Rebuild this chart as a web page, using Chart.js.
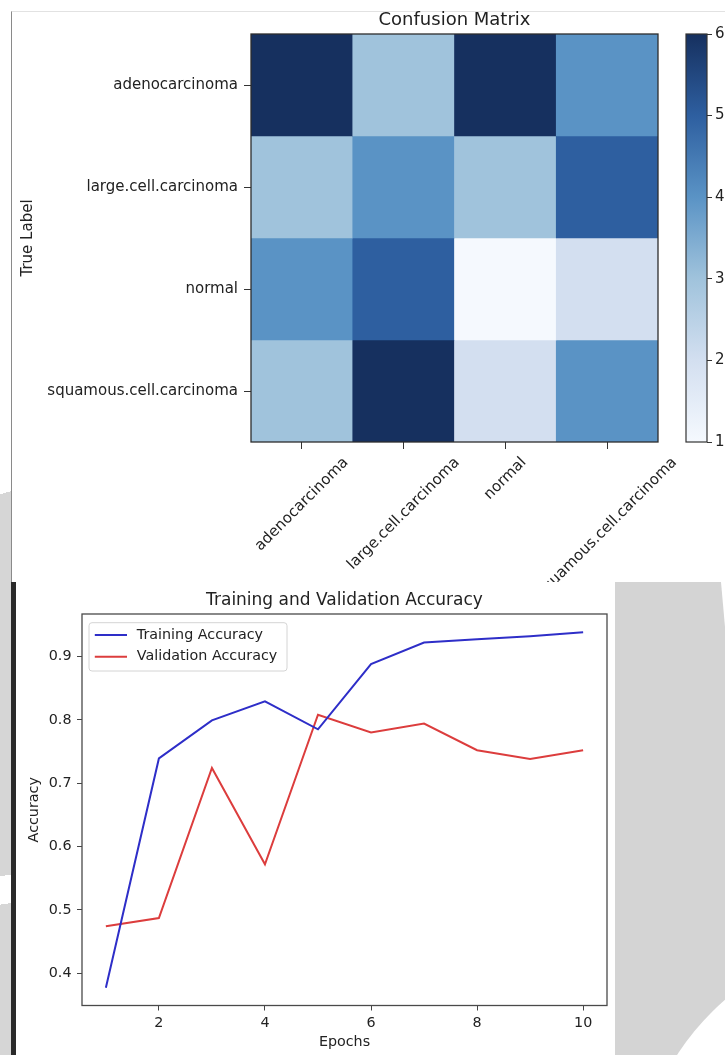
<!DOCTYPE html>
<html>
<head>
<meta charset="utf-8">
<script src="https://cdn.jsdelivr.net/npm/chart.js@4.4.1/dist/chart.umd.min.js"></script>
<style>
  html, body { margin: 0; padding: 0; background: #fff; }
  #wrap { position: relative; width: 725px; height: 1055px; overflow: hidden; background: #fff; }
  .abs { position: absolute; }
</style>
</head>
<body>
<div id="wrap">
  <!-- background watermark bits -->
  <div class="abs" style="left:0;top:420px;width:11px;height:162px;background:linear-gradient(165deg,#fff 0%,#fff 45%,#d6d6d6 45%,#d6d6d6 100%);"></div>
  <div class="abs" style="left:0;top:582px;width:11px;height:473px;background:linear-gradient(172deg,#d6d6d6 0%,#d6d6d6 62%,#fff 62%,#fff 68%,#d6d6d6 68%,#d6d6d6 100%);"></div>
  <!-- top panel frame -->
  <div class="abs" style="left:11px;top:11px;width:714px;height:571px;border-left:1px solid #8a8a8a;border-top:1px solid #e2e2e2;background:#fff;"></div>
  <canvas id="cm" class="abs" style="left:0;top:0;z-index:1" width="725" height="600"></canvas>
  <canvas id="cb" class="abs" style="left:660px;top:0;z-index:1" width="65" height="600"></canvas>
  <!-- bottom panel -->
  <div class="abs" style="left:11px;top:582px;width:5px;height:473px;background:#2a2a2a;z-index:2"></div>
  <div class="abs" style="left:16px;top:582px;width:599px;height:473px;background:#fff;z-index:2"></div>
  <div class="abs" style="left:615px;top:582px;width:110px;height:473px;background:#d4d4d4;z-index:2;overflow:hidden;">
    <div class="abs" style="left:19px;top:352px;width:532px;height:532px;border-radius:50%;background:#fff;"></div>
    <div class="abs" style="left:0;top:0;width:110px;height:110px;background:#fff;clip-path:polygon(106px 0,110px 0,110px 45px);"></div>
  </div>
  <canvas id="acc" class="abs" style="left:16px;top:582px;z-index:3" width="599" height="473"></canvas>
</div>
<script>
// ---------------- data ----------------
const trueLabels = ['adenocarcinoma', 'large.cell.carcinoma', 'normal', 'squamous.cell.carcinoma'];
const predLabels = ['adenocarcinoma', 'large.cell.carcinoma', 'normal', 'squamous.cell.carcinoma'];
const cmRow0 = [6, 3, 6, 4];
const cmRow1 = [3, 4, 3, 5];
const cmRow2 = [4, 5, 1, 2];
const cmRow3 = [3, 6, 2, 4];
const colorbarTicks = [1, 2, 3, 4, 5, 6];

const epochs = [1, 2, 3, 4, 5, 6, 7, 8, 9, 10];
const trainAcc = [0.377, 0.739, 0.799, 0.829, 0.785, 0.888, 0.922, 0.927, 0.932, 0.938];
const valAcc   = [0.474, 0.487, 0.724, 0.572, 0.808, 0.780, 0.794, 0.752, 0.738, 0.752];
const accTicks = [0.4, 0.5, 0.6, 0.7, 0.8, 0.9];
const epochTicks = [2, 4, 6, 8, 10];

// ---------------- helpers ----------------
const FONT = '"DejaVu Sans", "Liberation Sans", sans-serif';
Chart.defaults.font.family = FONT;
Chart.defaults.color = '#222';
Chart.defaults.animation = false;

// "Blues" colormap as it appears in the (slightly washed-out) reference
const BLUES = ['#f5f9fe', '#d3dff0', '#a0c3dc', '#5a93c5', '#2e5fa0', '#16305f'];
function hex2rgb(h){ return [parseInt(h.slice(1,3),16), parseInt(h.slice(3,5),16), parseInt(h.slice(5,7),16)]; }
function blues(t){
  t = Math.max(0, Math.min(1, t));
  const p = t * (BLUES.length - 1);
  const i = Math.min(Math.floor(p), BLUES.length - 2);
  const f = p - i;
  const a = hex2rgb(BLUES[i]), b = hex2rgb(BLUES[i+1]);
  const c = a.map((v, k) => Math.round(v + (b[k] - v) * f));
  return `rgb(${c[0]},${c[1]},${c[2]})`;
}
const cmRows = [cmRow0, cmRow1, cmRow2, cmRow3];
const vmin = Math.min(...colorbarTicks), vmax = Math.max(...colorbarTicks);

const framePlugin = {
  id: 'frame',
  afterDatasetsDraw(chart, args, opts) {
    const {ctx, chartArea: a} = chart;
    ctx.save();
    ctx.strokeStyle = opts.color || '#333';
    ctx.lineWidth = opts.width || 1.2;
    ctx.strokeRect(a.left, a.top, a.right - a.left, a.bottom - a.top);
    ctx.restore();
  }
};

const rotLabels = {
  id: 'rotLabels',
  afterDraw(chart) {
    const xs = chart.scales.x, c = chart.ctx;
    const size = 15;
    c.save();
    c.font = `${size}px ${FONT}`;
    c.fillStyle = '#222';
    const top = chart.chartArea.bottom + 12;
    predLabels.forEach((lab, i) => {
      const px = xs.getPixelForTick(i);
      const w = c.measureText(lab).width, h = size * 1.16;
      const half = (w + h) * Math.SQRT1_2 / 2;
      c.save();
      c.translate(px, top + half);
      c.rotate(-Math.PI / 4);
      c.textAlign = 'center';
      c.textBaseline = 'middle';
      c.fillText(lab, 0, 0);
      c.restore();
    });
    c.restore();
  }
};

// ---------------- confusion matrix ----------------
new Chart(document.getElementById('cm'), {
  type: 'bar',
  data: {
    labels: predLabels,
    datasets: cmRows.map((row, r) => ({
      label: trueLabels[r],
      data: row.map(() => [r, r + 1]),
      backgroundColor: row.map(v => blues((v - vmin) / (vmax - vmin))),
      borderWidth: 0,
      borderSkipped: false,
      barPercentage: 1,
      categoryPercentage: 1,
      grouped: false
    }))
  },
  options: {
    responsive: false,
    devicePixelRatio: 1,
    layout: { padding: { left: 0, right: 67, top: 0, bottom: 0 } },
    plugins: {
      legend: { display: false },
      tooltip: { enabled: false },
      title: { display: true, text: 'Confusion Matrix', fullSize: false,
               font: { size: 18, weight: 'normal' }, color: '#222',
               padding: { top: 9.5, bottom: 2.9 } },
      frame: { color: '#2d2d2d', width: 1.3 }
    },
    scales: {
      x: {
        type: 'category',
        ticks: { display: false },
        grid: { drawOnChartArea: false, drawTicks: true, tickLength: 7, offset: false, color: '#333' },
        border: { display: false },
        afterFit(s) { s.height = 158; }
      },
      y: {
        type: 'linear', min: 0, max: trueLabels.length, reverse: true,
        afterBuildTicks(s) { s.ticks = trueLabels.map((_, i) => ({ value: i + 0.5 })); },
        ticks: { callback: (v, i) => trueLabels[i], font: { size: 15 }, color: '#222', padding: 6, autoSkip: false },
        grid: { drawOnChartArea: false, drawTicks: true, tickLength: 7, color: '#333' },
        border: { display: false },
        title: { display: true, text: 'True Label', font: { size: 15 }, color: '#222', padding: { top: 19, bottom: 0 } },
        afterFit(s) { s.width = 251; }
      }
    }
  },
  plugins: [framePlugin, rotLabels]
});

// ---------------- colorbar ----------------
new Chart(document.getElementById('cb'), {
  type: 'bar',
  data: {
    labels: ['cb'],
    datasets: [{
      data: [[vmin, vmax]],
      backgroundColor(ctx) {
        const a = ctx.chart.chartArea;
        if (!a) return BLUES[3];
        const g = ctx.chart.ctx.createLinearGradient(0, a.bottom, 0, a.top);
        BLUES.forEach((c, i) => g.addColorStop(i / (BLUES.length - 1), c));
        return g;
      },
      borderWidth: 0, borderSkipped: false, barPercentage: 1, categoryPercentage: 1
    }]
  },
  options: {
    responsive: false,
    devicePixelRatio: 1,
    layout: { padding: { left: 26, right: 0, top: 34, bottom: 158 } },
    plugins: { legend: { display: false }, tooltip: { enabled: false }, frame: { color: '#333', width: 1.2 } },
    scales: {
      x: { display: false },
      y: {
        type: 'linear', position: 'right', min: vmin, max: vmax,
        afterBuildTicks(s) { s.ticks = colorbarTicks.map(v => ({ value: v })); },
        ticks: { font: { size: 15 }, color: '#222', padding: 3 },
        grid: { drawOnChartArea: false, drawTicks: true, tickLength: 5, color: '#333' },
        border: { display: false },
        afterFit(s) { s.width = 18; }
      }
    }
  },
  plugins: [framePlugin]
});

// ---------------- accuracy ----------------
const legendPlugin = {
  id: 'mplLegend',
  afterDatasetsDraw(chart) {
    const {ctx, chartArea: a} = chart;
    const x0 = a.left + 7, y0 = a.top + 8.7, w = 198, h = 48.3, r = 3;
    ctx.save();
    ctx.beginPath();
    ctx.moveTo(x0 + r, y0); ctx.lineTo(x0 + w - r, y0); ctx.quadraticCurveTo(x0 + w, y0, x0 + w, y0 + r);
    ctx.lineTo(x0 + w, y0 + h - r); ctx.quadraticCurveTo(x0 + w, y0 + h, x0 + w - r, y0 + h);
    ctx.lineTo(x0 + r, y0 + h); ctx.quadraticCurveTo(x0, y0 + h, x0, y0 + h - r);
    ctx.lineTo(x0, y0 + r); ctx.quadraticCurveTo(x0, y0, x0 + r, y0);
    ctx.closePath();
    ctx.fillStyle = 'rgba(255,255,255,0.8)';
    ctx.fill();
    ctx.strokeStyle = '#d4d4d4';
    ctx.lineWidth = 1;
    ctx.stroke();
    ctx.font = `14.3px ${FONT}`;
    ctx.textBaseline = 'middle';
    ctx.textAlign = 'left';
    chart.data.datasets.forEach((ds, i) => {
      const yy = y0 + 12.3 + i * 21.7;
      ctx.strokeStyle = ds.borderColor;
      ctx.lineWidth = ds.borderWidth;
      ctx.beginPath(); ctx.moveTo(x0 + 5.8, yy); ctx.lineTo(x0 + 38, yy); ctx.stroke();
      ctx.fillStyle = '#222';
      ctx.fillText(ds.label, x0 + 47.8, yy);
    });
    ctx.restore();
  }
};

new Chart(document.getElementById('acc'), {
  type: 'line',
  data: {
    datasets: [
      { label: 'Training Accuracy', data: epochs.map((e, i) => ({ x: e, y: trainAcc[i] })),
        borderColor: '#2e2ec8', borderWidth: 2, pointRadius: 0, tension: 0, fill: false },
      { label: 'Validation Accuracy', data: epochs.map((e, i) => ({ x: e, y: valAcc[i] })),
        borderColor: '#dc3d3d', borderWidth: 2, pointRadius: 0, tension: 0, fill: false }
    ]
  },
  options: {
    responsive: false,
    devicePixelRatio: 1,
    layout: { padding: { left: 0, right: 8, top: 0, bottom: 0 } },
    plugins: {
      legend: { display: false },
      tooltip: { enabled: false },
      title: { display: true, text: 'Training and Validation Accuracy', fullSize: false,
               font: { size: 17, weight: 'normal' }, color: '#222', padding: { top: 8, bottom: 3.6 } },
      frame: { color: '#4a4a4a', width: 1.3 }
    },
    scales: {
      x: {
        type: 'linear', min: 0.55, max: 10.45,
        afterBuildTicks(s) { s.ticks = epochTicks.map(v => ({ value: v })); },
        ticks: { font: { size: 14.3 }, color: '#222', padding: 4 },
        grid: { drawOnChartArea: false, drawTicks: true, tickLength: 5, color: '#444' },
        border: { display: false },
        title: { display: true, text: 'Epochs', font: { size: 14.3 }, color: '#222', padding: { top: 0, bottom: 3.7 } },
        afterFit(s) { s.height = 49.5; }
      },
      y: {
        type: 'linear', min: 0.349, max: 0.967,
        afterBuildTicks(s) { s.ticks = accTicks.map(v => ({ value: v })); },
        ticks: { font: { size: 14.3 }, color: '#222', padding: 5.5, callback: v => v.toFixed(1) },
        grid: { drawOnChartArea: false, drawTicks: true, tickLength: 5, color: '#444' },
        border: { display: false },
        title: { display: true, text: 'Accuracy', font: { size: 14.3 }, color: '#222', padding: { top: 9.5, bottom: 0 } },
        afterFit(s) { s.width = 66; }
      }
    }
  },
  plugins: [framePlugin, legendPlugin]
});
</script>
</body>
</html>
